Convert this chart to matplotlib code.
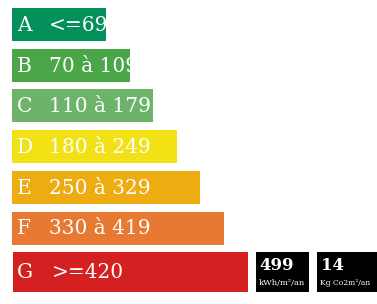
import matplotlib
matplotlib.use("Agg")
import matplotlib.pyplot as plt

letters = ["A", "B", "C", "D", "E", "F", "G"]
ranges = ["<=69", "70 à 109", "110 à 179", "180 à 249", "250 à 329", "330 à 419", ">=420"]
bar_lengths = [94, 118, 141, 165, 188, 212, 235]
colors = ["#03905A", "#4BA647", "#6DB46A", "#F2E215", "#EDAC12", "#E87932", "#D42020"]
energy_value = "499"
energy_unit = "kWh/m²/an"
ges_value = "14"
ges_unit = "Kg Co2m²/an"
current_class = "G"

W, H = 377, 304
fig = plt.figure(figsize=(W / 100, H / 100), dpi=100)
ax = fig.add_axes([0, 0, 1, 1])
ax.set_xlim(0, W)
ax.set_ylim(H, 0)
ax.axis("off")

centers = [24.5, 65.5, 105.5, 146.5, 187.5, 228, 272]
for i, (let, rng, ln, col) in enumerate(zip(letters, ranges, bar_lengths, colors)):
    cur = let == current_class
    h = 40 if cur else 33
    x0 = 13 if cur else 12
    ax.barh(centers[i], ln, height=h, left=x0, color=col, edgecolor="none")
    ax.text(17, centers[i] + 1, let, color="white", fontsize=14.5, family="DejaVu Serif",
            va="center", ha="left")
    ax.text(52 if cur else 49, centers[i] + 1, rng, color="white", fontsize=14.5,
            family="DejaVu Serif", va="center", ha="left")

# black value boxes
ax.barh(271.5, 53, height=40, left=256, color="black")
ax.barh(271.5, 60, height=40, left=317, color="black")
ax.text(259, 265, energy_value, color="white", fontsize=12, fontweight="bold",
        family="DejaVu Serif", va="center", ha="left")
ax.text(259, 283, energy_unit, color="white", fontsize=6.0, family="DejaVu Serif",
        va="center", ha="left")
ax.text(321, 265, ges_value, color="white", fontsize=12, fontweight="bold",
        family="DejaVu Serif", va="center", ha="left")
ax.text(320, 283, ges_unit, color="white", fontsize=5.5, family="DejaVu Serif",
        va="center", ha="left")

fig.savefig("out.png", dpi=100)
